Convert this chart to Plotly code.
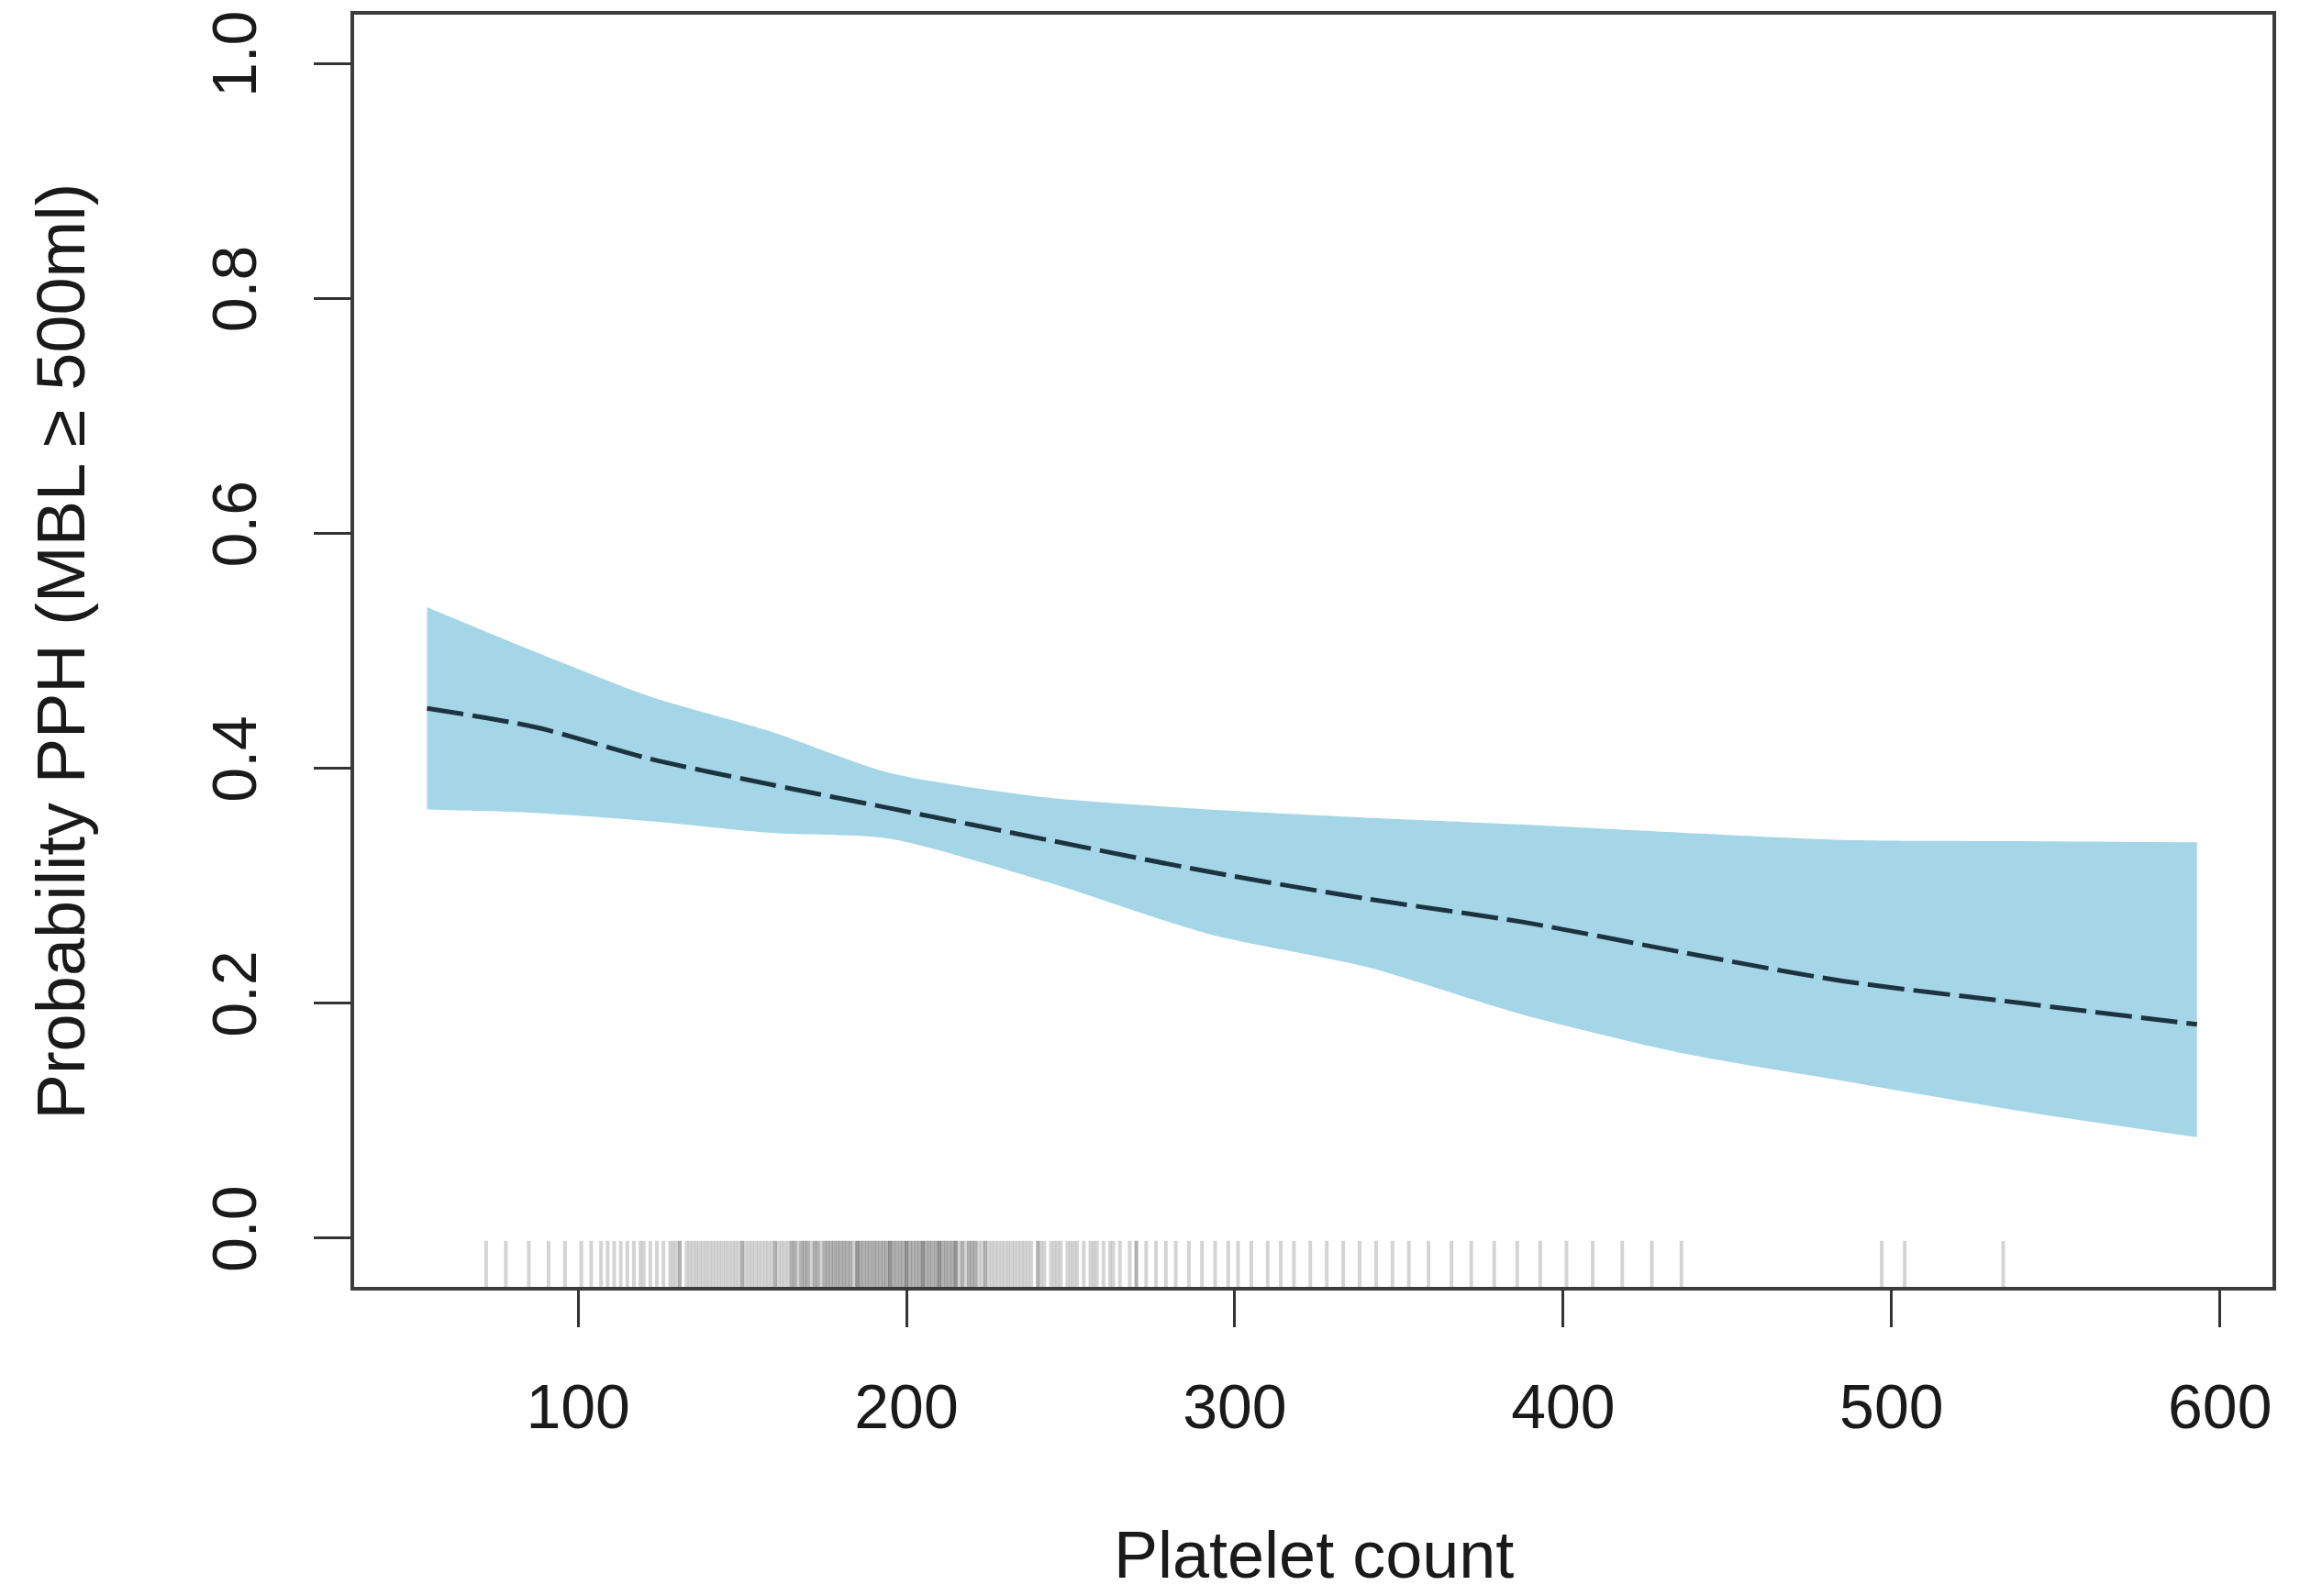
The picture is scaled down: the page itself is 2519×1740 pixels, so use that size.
import plotly.graph_objects as go

# Fitted probability of PPH against platelet count, with 95% band
platelet = [54, 87, 122, 159, 195, 243, 292, 340, 388, 437, 485, 540, 593]
prob_fit = [0.451, 0.435, 0.408, 0.386, 0.366, 0.339, 0.312, 0.289, 0.269, 0.243, 0.219, 0.200, 0.182]
prob_upper = [0.537, 0.499, 0.461, 0.431, 0.396, 0.375, 0.365, 0.358, 0.352, 0.345, 0.339, 0.338, 0.337]
prob_lower = [0.365, 0.362, 0.355, 0.345, 0.340, 0.303, 0.259, 0.231, 0.190, 0.157, 0.134, 0.108, 0.086]

# Observed platelet counts (rug along the x axis)
rug_counts = [
    72, 78, 85, 91, 96, 101, 104, 107, 109, 111, 113, 115, 117, 119, 120, 122, 124, 126, 128, 129,
    130, 131, 133, 134, 136, 137, 139, 140, 141, 143, 144, 146, 147, 149, 150, 150, 152, 153, 155,
    156, 158, 159, 160, 161, 162, 164, 165, 165, 167, 168, 169, 170, 170, 172, 173, 174, 175, 176,
    177, 178, 179, 180, 180, 181, 182, 183, 184, 185, 185, 186, 187, 188, 189, 190, 190, 191, 192,
    193, 194, 195, 195, 196, 197, 198, 199, 200, 200, 201, 202, 203, 204, 205, 205, 206, 207, 208,
    209, 210, 210, 211, 212, 213, 214, 215, 215, 216, 218, 219, 220, 220, 222, 223, 225, 226, 228,
    229, 230, 232, 233, 235, 236, 238, 240, 240, 242, 244, 245, 247, 249, 250, 252, 254, 256, 258,
    260, 262, 265, 268, 270, 273, 276, 279, 282, 286, 290, 294, 298, 301, 305, 310, 314, 318, 323,
    328, 333, 338, 343, 348, 353, 359, 366, 372, 379, 386, 393, 401, 409, 418, 427, 436,
    497, 504, 534,
    131, 135, 138, 142, 145, 148, 151, 154, 157, 160, 163, 166, 168, 171, 173, 175, 177, 179, 181,
    183, 185, 187, 189, 191, 193, 195, 197, 199, 201, 203, 205, 207, 209, 211, 213, 215, 217, 219,
    221, 224, 227, 231, 234, 237, 241, 246, 251, 257, 263, 270,
    166, 169, 172, 176, 178, 182, 186, 188, 192, 194, 196, 198, 200, 202, 204, 206, 208, 210, 212,
    214, 217, 221, 224,
]

x_ticks = [100, 200, 300, 400, 500, 600]
y_ticks = [0.0, 0.2, 0.4, 0.6, 0.8, 1.0]
x_range = [31.8, 616.0]
y_range = [-0.0414, 1.0414]

BAND = "rgb(164,214,231)"
FONT = "Liberation Sans, Arial, Helvetica, sans-serif"

fig = go.Figure()

# confidence band: lower edge first, upper edge filled down to it
fig.add_trace(go.Scatter(
    x=platelet,
    y=prob_lower,
    mode="lines",
    line=dict(color=BAND, width=0, shape="spline", smoothing=0.7),
    hoverinfo="skip",
    showlegend=False,
))
fig.add_trace(go.Scatter(
    x=platelet,
    y=prob_upper,
    mode="lines",
    fill="tonexty",
    fillcolor=BAND,
    line=dict(color=BAND, width=0, shape="spline", smoothing=0.7),
    hoverinfo="skip",
    showlegend=False,
))

# fitted curve
fig.add_trace(go.Scatter(
    x=platelet,
    y=prob_fit,
    mode="lines",
    line=dict(color="#1e3342", width=5, dash="40px,10px", shape="spline", smoothing=0.8),
    showlegend=False,
))

# rug: one translucent vertical tick per observation, along the bottom of the panel
rug_h = 0.03 * (y_range[1] - y_range[0])
fig.add_trace(go.Scatter(
    x=rug_counts,
    y=[y_range[0] + rug_h / 2] * len(rug_counts),
    mode="markers",
    marker=dict(symbol="line-ns", size=42,
                line=dict(width=4, color="rgba(40,40,40,0.2)")),
    hoverinfo="skip",
    showlegend=False,
))

axis_common = dict(
    showgrid=False,
    zeroline=False,
    showline=True,
    mirror=True,
    linecolor="#3c3c3c",
    linewidth=4,
    ticks="outside",
    ticklen=40,
    tickwidth=3,
    tickcolor="#333333",
    tickfont=dict(family=FONT, size=68, color="#1a1a1a"),
)

fig.update_xaxes(range=x_range, tickvals=x_ticks, ticklabelstandoff=28,
                 ticktext=[str(v) for v in x_ticks], **axis_common)
fig.update_yaxes(range=y_range, tickvals=y_ticks, ticklabelstandoff=36,
                 ticktext=[f"{v:.1f}" for v in y_ticks], tickangle=-90, **axis_common)

fig.update_layout(
    width=2519,
    height=1740,
    margin=dict(l=386, r=42, t=16, b=337, autoexpand=False),
    paper_bgcolor="white",
    plot_bgcolor="white",
    font=dict(family=FONT, color="#1a1a1a"),
    annotations=[
        dict(text="Platelet count", xref="paper", yref="paper", x=0.5, y=-0.2105,
             xanchor="center", yanchor="middle", showarrow=False,
             font=dict(family=FONT, size=72, color="#1a1a1a")),
        dict(text="Probability PPH (MBL ≥ 500ml)", xref="paper", yref="paper",
             x=-0.1526, y=0.5, xanchor="center", yanchor="middle", textangle=-90,
             showarrow=False, font=dict(family=FONT, size=74, color="#1a1a1a")),
    ],
)

fig.write_html("out.html")
